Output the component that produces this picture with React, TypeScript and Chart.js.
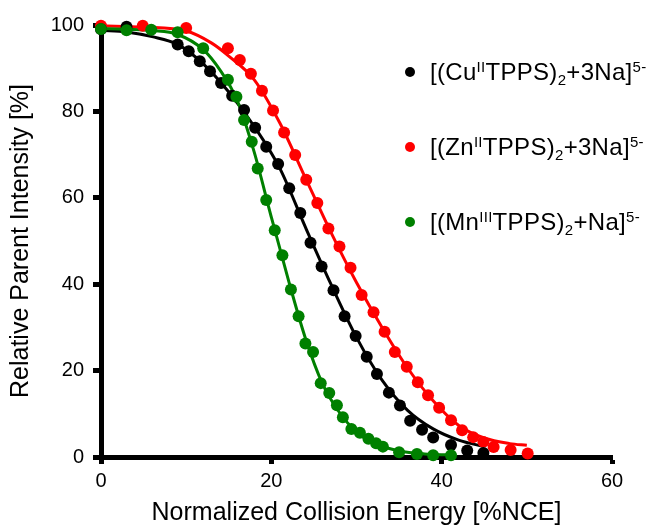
import React, { useEffect, useRef } from "react";
import { Chart, registerables } from "chart.js";

Chart.register(...registerables);

// ---------- data ----------
const cuPointsX = [0, 3, 9.0, 10.3, 11.6, 12.8, 14.1, 15.4, 16.8, 18.1, 19.4, 20.8, 22.1, 23.4, 24.6, 25.9, 27.3, 28.6, 29.9, 31.2, 32.4, 33.8, 35.1, 36.3, 37.7, 39.0, 41.1, 43.0, 44.9];
const cuPointsY = [99.0, 99.6, 95.5, 93.9, 91.6, 89.3, 86.6, 83.6, 80.3, 76.2, 71.8, 67.8, 62.2, 56.5, 49.6, 44.1, 38.6, 32.6, 28.0, 23.2, 19.2, 14.9, 11.9, 8.4, 6.3, 4.5, 2.8, 1.5, 0.9];

const znPointsX = [0, 4.9, 10.0, 14.9, 16.3, 17.6, 18.9, 20.2, 21.5, 22.8, 24.1, 25.4, 26.7, 28.0, 29.3, 30.6, 32.0, 33.3, 34.5, 35.9, 37.2, 38.4, 39.7, 41.1, 42.4, 43.7, 44.9, 46.1, 48.1, 50.1];
const znPointsY = [99.8, 99.8, 99.3, 94.6, 91.9, 88.7, 84.8, 80.2, 75.1, 69.9, 64.2, 58.8, 52.9, 48.7, 43.8, 37.5, 33.5, 29.0, 24.3, 20.9, 17.3, 14.3, 11.4, 8.5, 6.2, 4.6, 3.5, 2.3, 1.6, 0.8];

const mnPointsX = [0, 3, 5.9, 9.0, 12.0, 14.9, 15.9, 16.8, 17.7, 18.4, 19.4, 20.4, 21.3, 22.3, 23.2, 24.0, 24.9, 25.8, 26.8, 27.7, 28.4, 29.4, 30.4, 31.4, 32.3, 33.1, 35.0, 37.1, 39.0, 41.1];
const mnPointsY = [99.1, 98.8, 98.9, 98.3, 94.6, 87.3, 83.4, 78.0, 73.0, 66.8, 59.5, 52.5, 46.7, 38.8, 32.6, 26.3, 24.3, 17.1, 14.8, 12.0, 9.2, 6.5, 5.6, 4.2, 3.2, 2.4, 1.1, 0.7, 0.4, 0.4];

// fitted curves
const cuFitX = [0, 3, 6, 9, 12, 15, 18, 21, 24, 27, 30, 33, 36, 39, 42, 45];
const cuFitY = [98.8, 98.4, 97.3, 95.5, 91.0, 84.5, 76.5, 66.8, 53.2, 40.0, 27.7, 17.8, 10.8, 6.5, 3.9, 2.4];

const znFitX = [0, 5, 10, 13, 15, 18, 21, 24, 27, 30, 33, 36, 39, 42, 45, 48, 50];
const znFitY = [99.8, 99.5, 98.6, 95.8, 92.8, 87.3, 77.3, 64.6, 52.0, 40.4, 30.0, 20.6, 13.0, 7.3, 4.4, 3.1, 2.7];

const mnFitX = [0, 3, 6, 9, 12, 14, 16, 18, 20, 22, 24, 26, 28, 30, 32, 35, 38, 41];
const mnFitY = [99.2, 99.0, 98.7, 97.8, 94.3, 89.5, 82.5, 70.5, 55.5, 41.0, 27.5, 17.0, 10.3, 5.8, 3.2, 1.4, 0.7, 0.5];

const xTicks = [0, 20, 40, 60];
const yTicks = [0, 20, 40, 60, 80, 100];
const xTitle = "Normalized Collision Energy [%NCE]";
const yTitle = "Relative Parent Intensity [%]";

const colors = { cu: "#000000", zn: "#ff0000", mn: "#008000" };

const FONT = '"Liberation Sans", Arial, Helvetica, sans-serif';

const toXY = (xs: number[], ys: number[]) => xs.map((x, i) => ({ x, y: ys[i] }));

type LegendPart = { t: string; k?: "sup" | "sub" };
const legendItems: { color: string; parts: LegendPart[] }[] = [
  { color: colors.cu, parts: [{ t: "[(Cu" }, { t: "II", k: "sup" }, { t: "TPPS)" }, { t: "2", k: "sub" }, { t: "+3Na]" }, { t: "5-", k: "sup" }] },
  { color: colors.zn, parts: [{ t: "[(Zn" }, { t: "II", k: "sup" }, { t: "TPPS)" }, { t: "2", k: "sub" }, { t: "+3Na]" }, { t: "5-", k: "sup" }] },
  { color: colors.mn, parts: [{ t: "[(Mn" }, { t: "III", k: "sup" }, { t: "TPPS)" }, { t: "2", k: "sub" }, { t: "+Na]" }, { t: "5-", k: "sup" }] },
];
const legendCenters = [72, 147, 222];

export default function App() {
  const canvasRef = useRef<HTMLCanvasElement | null>(null);

  useEffect(() => {
    document.body.style.margin = "0";
    document.body.style.overflow = "hidden";
    const canvas = canvasRef.current;
    if (!canvas) return;

    const pointDs = (label: string, xs: number[], ys: number[], color: string, order: number) => ({
      label,
      data: toXY(xs, ys),
      showLine: false,
      pointRadius: 6,
      pointBorderWidth: 0,
      pointBackgroundColor: color,
      backgroundColor: color,
      borderColor: color,
      clip: false as any,
      order,
    });
    const fitDs = (label: string, xs: number[], ys: number[], color: string, order: number) => ({
      label,
      data: toXY(xs, ys),
      showLine: true,
      pointRadius: 0,
      borderWidth: 3,
      borderColor: color,
      backgroundColor: color,
      cubicInterpolationMode: "monotone" as const,
      fill: false,
      clip: false as any,
      order,
    });

    const chart = new Chart(canvas, {
      type: "line",
      data: {
        datasets: [
          fitDs("Zn fit", znFitX, znFitY, colors.zn, 6),
          fitDs("Cu fit", cuFitX, cuFitY, colors.cu, 5),
          fitDs("Mn fit", mnFitX, mnFitY, colors.mn, 4),
          pointDs("Zn", znPointsX, znPointsY, colors.zn, 3),
          pointDs("Cu", cuPointsX, cuPointsY, colors.cu, 2),
          pointDs("Mn", mnPointsX, mnPointsY, colors.mn, 1),
        ] as any,
      },
      options: {
        responsive: false,
        animation: false,
        events: [],
        layout: { padding: { top: 25, right: 43, bottom: 0, left: 0 } },
        plugins: { legend: { display: false }, tooltip: { enabled: false } },
        scales: {
          x: {
            type: "linear",
            min: 0,
            max: 60,
            afterBuildTicks: (s: any) => {
              s.ticks = xTicks.map((v) => ({ value: v }));
            },
            afterFit: (s: any) => {
              s.height = 70;
            },
            border: { display: true, color: "#000", width: 5 },
            grid: { display: true, drawOnChartArea: false, drawTicks: true, tickLength: 7, tickWidth: 5, tickColor: "#000", color: "#000" },
            ticks: { color: "#000", font: { family: FONT, size: 20 }, padding: 5, maxRotation: 0 },
            title: { display: true, text: xTitle, color: "#000", font: { family: FONT, size: 25, lineHeight: 1.1 }, padding: { top: 0, bottom: 0 } },
          },
          y: {
            type: "linear",
            min: 0,
            max: 100,
            afterBuildTicks: (s: any) => {
              s.ticks = yTicks.map((v) => ({ value: v }));
            },
            afterFit: (s: any) => {
              s.width = 101;
            },
            border: { display: true, color: "#000", width: 5 },
            grid: { display: true, drawOnChartArea: false, drawTicks: true, tickLength: 8, tickWidth: 5, tickColor: "#000", color: "#000" },
            ticks: { color: "#000", font: { family: FONT, size: 20 }, padding: 9 },
            title: { display: true, text: yTitle, color: "#000", font: { family: FONT, size: 25, lineHeight: 1.2 }, padding: { top: 6, bottom: 0 } },
          },
        },
      } as any,
    });
    return () => chart.destroy();
  }, []);

  return (
    <div style={{ position: "relative", width: 655, height: 527, background: "#fff", fontFamily: FONT }}>
      <canvas ref={canvasRef} width={655} height={527} style={{ display: "block" }} />
      {legendItems.map((item, i) => (
        <React.Fragment key={i}>
          <div
            style={{
              position: "absolute",
              left: 405,
              top: legendCenters[i] - 5,
              width: 10,
              height: 10,
              borderRadius: "50%",
              background: item.color,
            }}
          />
          <div
            style={{
              position: "absolute",
              left: 430,
              top: legendCenters[i] - 12,
              lineHeight: "24px",
              fontSize: 24,
              letterSpacing: "0.3px",
              color: "#000",
              whiteSpace: "nowrap",
            }}
          >
            {item.parts.map((p, j) =>
              p.k ? (
                <span
                  key={j}
                  style={{ fontSize: 15, position: "relative", top: p.k === "sup" ? -8 : 5, lineHeight: 0 }}
                >
                  {p.t}
                </span>
              ) : (
                <span key={j}>{p.t}</span>
              )
            )}
          </div>
        </React.Fragment>
      ))}
    </div>
  );
}
